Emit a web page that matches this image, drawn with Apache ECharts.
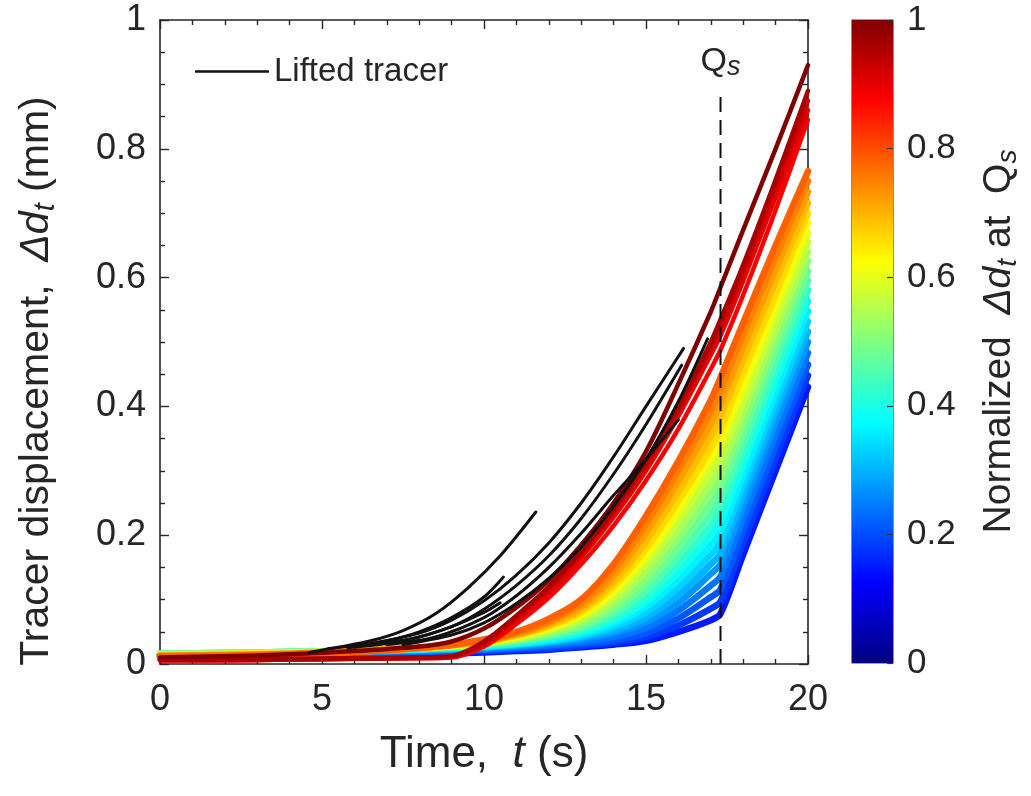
<!DOCTYPE html>
<html>
<head>
<meta charset="utf-8">
<script src="https://cdn.jsdelivr.net/npm/echarts@6/dist/echarts.min.js"></script>
<style>
  html, body { margin: 0; padding: 0; background: #ffffff; }
  #chart { width: 1031px; height: 796px; }
</style>
</head>
<body>
<div id="chart"></div>
<script>
// Sample times (s) shared by the coloured tracer curves
const timeS = [0, 2, 4, 6, 8, 9, 10, 11, 12, 13, 14, 15, 16, 17, 17.3, 18, 19, 20];

// Time at which Q_s is reached (s)
const qsTime = 17.3;
const qsLineTop = 0.89;

// Normalized displacement at Q_s (colour value of each curve)
const normLevel = [
  0.15, 0.18, 0.21, 0.24, 0.27, 0.30, 0.33, 0.36, 0.39, 0.42, 0.45,
  0.48, 0.51, 0.54, 0.57, 0.60, 0.63, 0.66, 0.69, 0.72, 0.75, 0.78,
  0.88, 0.90, 0.93, 0.96, 1.00
];

// Tracer displacement (mm) at each sample time, one row per curve (same order as normLevel)
const displacement = [
  [.010,.011,.012,.013,.015,.016,.018,.020,.022,.026,.030,.036,.050,.068,.078,.170,.300,.430],
  [.012,.013,.014,.015,.017,.018,.020,.022,.024,.028,.033,.042,.060,.086,.097,.188,.319,.448],
  [.013,.014,.015,.016,.018,.020,.022,.024,.027,.031,.037,.048,.071,.104,.116,.207,.338,.465],
  [.014,.015,.016,.018,.020,.021,.023,.026,.029,.034,.042,.056,.083,.122,.136,.226,.356,.483],
  [.015,.016,.017,.019,.021,.023,.025,.028,.032,.038,.048,.065,.095,.140,.155,.245,.375,.500],
  [.015,.016,.017,.019,.022,.023,.026,.029,.034,.041,.052,.072,.107,.155,.172,.261,.391,.516],
  [.015,.016,.018,.020,.022,.024,.026,.030,.035,.043,.057,.080,.119,.170,.189,.277,.406,.532],
  [.016,.017,.018,.020,.023,.025,.027,.031,.037,.046,.062,.089,.131,.185,.206,.292,.422,.548],
  [.016,.017,.018,.020,.023,.025,.028,.032,.039,.049,.067,.097,.143,.200,.223,.309,.439,.564],
  [.016,.017,.019,.021,.024,.026,.029,.034,.041,.052,.072,.105,.155,.215,.240,.325,.455,.580],
  [.016,.017,.019,.021,.024,.026,.030,.035,.043,.055,.078,.114,.168,.232,.256,.341,.471,.595],
  [.016,.017,.019,.021,.024,.027,.030,.036,.045,.059,.084,.124,.181,.249,.273,.358,.487,.610],
  [.015,.016,.018,.021,.024,.027,.031,.038,.047,.063,.090,.134,.195,.265,.290,.374,.502,.626],
  [.015,.016,.018,.021,.025,.027,.032,.039,.050,.067,.097,.145,.208,.282,.305,.390,.517,.641],
  [.015,.016,.018,.020,.025,.028,.032,.040,.052,.071,.104,.155,.222,.298,.322,.407,.533,.655],
  [.014,.015,.017,.020,.025,.028,.033,.042,.055,.075,.110,.165,.235,.315,.340,.425,.550,.670],
  [.014,.015,.017,.020,.025,.028,.034,.043,.056,.077,.115,.172,.244,.325,.352,.438,.562,.685],
  [.014,.015,.017,.020,.025,.029,.034,.044,.058,.080,.120,.179,.253,.335,.365,.452,.574,.700],
  [.013,.014,.016,.020,.025,.029,.035,.045,.060,.084,.127,.191,.268,.354,.385,.472,.594,.716],
  [.013,.014,.016,.020,.025,.029,.036,.046,.063,.089,.136,.204,.284,.373,.405,.492,.613,.733],
  [.012,.013,.015,.019,.025,.030,.037,.048,.066,.094,.145,.217,.300,.392,.425,.512,.632,.750],
  [.012,.013,.015,.019,.025,.030,.038,.050,.070,.100,.155,.230,.315,.410,.445,.530,.650,.765],
  [.006,.006,.007,.008,.009,.010,.027,.062,.103,.155,.215,.285,.365,.458,.488,.573,.705,.845],
  [.006,.006,.007,.008,.009,.011,.030,.068,.110,.165,.228,.300,.385,.480,.510,.595,.725,.860],
  [.006,.006,.007,.008,.010,.012,.033,.072,.116,.172,.236,.310,.395,.492,.523,.610,.742,.875],
  [.007,.007,.008,.009,.010,.012,.035,.075,.120,.175,.240,.315,.400,.500,.535,.620,.752,.890],
  [.010,.012,.015,.020,.027,.035,.055,.088,.130,.185,.250,.330,.435,.547,.585,.674,.800,.930]
];

// Lifted tracers: [time (s), displacement (mm)] pairs, each ending when the tracer lifts
const liftedTracers = [
  [[4.6,.018],[5.5,.026],[6.5,.036],[7.5,.052],[8.5,.078],[9.5,.118],[10.5,.168],[11.6,.236]],
  [[5.8,.025],[7,.036],[8,.050],[9,.072],[10,.104],[10.6,.135]],
  [[6,.028],[7,.033],[8,.042],[9,.058],[10,.080],[10.5,.095]],
  [[5.2,.024],[6.5,.032],[8,.048],[9,.068],[10,.098],[11,.138],[12,.188],[13,.250],[14,.322],[15,.400],[16.16,.490]],
  [[6,.026],[7.5,.036],[9,.058],[10,.085],[11,.122],[12,.168],[13,.226],[14,.295],[15,.372],[16.1,.464]],
  [[7,.030],[8.5,.042],[10,.072],[11,.106],[12,.150],[13,.203],[14,.262],[15,.318],[16,.379]],
  [[7.5,.030],[9,.045],[10,.064],[11,.094],[12,.133],[13,.182],[14,.245],[15,.318],[16,.408],[16.9,.505]]
];

const FONT = 'Liberation Sans';
const INK = '#262626';

// MATLAB-style jet colormap
function jet(v) {
  const ch = x => Math.round(255 * Math.max(0, Math.min(1, x)));
  return 'rgb(' + ch(1.5 - Math.abs(4 * v - 3)) + ',' +
                  ch(1.5 - Math.abs(4 * v - 2)) + ',' +
                  ch(1.5 - Math.abs(4 * v - 1)) + ')';
}

function richSet(size, subSize) {
  return {
    n:   { fontSize: size, fontFamily: FONT, color: INK, lineHeight: size + 6 },
    i:   { fontSize: size, fontFamily: FONT, color: INK, fontStyle: 'italic', lineHeight: size + 6 },
    sub: { fontSize: subSize, fontFamily: FONT, color: INK, fontStyle: 'italic',
           lineHeight: Math.round(subSize * 0.7), verticalAlign: 'bottom' }
  };
}

const series = [];

// coloured tracer curves, low values first so the high ones sit on top
normLevel.forEach((lvl, k) => {
  series.push({
    type: 'line',
    name: 'tracer ' + k,
    xAxisIndex: 0, yAxisIndex: 0,
    data: timeS.map((t, j) => [t, displacement[k][j]]),
    symbol: 'none',
    smooth: 0.3,
    silent: true,
    lineStyle: { color: jet(lvl), width: lvl > 0.85 ? 4.5 : 6.5, cap: 'round', join: 'round' },
    z: 2
  });
});

// lifted tracers in black
liftedTracers.forEach(tr => {
  series.push({
    type: 'line',
    name: 'Lifted tracer',
    xAxisIndex: 0, yAxisIndex: 0,
    data: tr,
    symbol: 'none',
    smooth: 0.3,
    silent: true,
    color: '#111111',
    lineStyle: { color: '#111111', width: 3, cap: 'round', join: 'round' },
    z: 3
  });
});

// Q_s marker line
series.push({
  type: 'line',
  name: 'Qs',
  xAxisIndex: 0, yAxisIndex: 0,
  data: [[qsTime, 0], [qsTime, qsLineTop]],
  symbol: 'none',
  silent: true,
  lineStyle: { color: '#111111', width: 2, type: [15, 8] },
  z: 4,
  markPoint: {
    symbol: 'circle',
    symbolSize: 0,
    silent: true,
    data: [{ coord: [qsTime, qsLineTop] }],
    label: {
      show: true,
      position: 'top',
      distance: 10,
      formatter: '{q|Q}{s|s}',
      rich: {
        q: { fontSize: 34, fontFamily: FONT, color: INK, lineHeight: 38 },
        s: { fontSize: 27, fontFamily: FONT, color: INK, fontStyle: 'italic', lineHeight: 18, verticalAlign: 'bottom' }
      }
    }
  }
});

// colour bar body
series.push({
  type: 'bar',
  name: 'colorbar',
  xAxisIndex: 2, yAxisIndex: 2,
  data: [1],
  barWidth: '100%',
  silent: true,
  itemStyle: {
    color: {
      type: 'linear', x: 0, y: 1, x2: 0, y2: 0,
      colorStops: [0, 0.125, 0.25, 0.375, 0.5, 0.625, 0.75, 0.875, 1].map(p => ({ offset: p, color: jet(p) }))
    }
  }
});

const axisLine = { show: true, onZero: false, lineStyle: { color: INK, width: 1.6 } };
const tickStyle = { color: INK, width: 1.4 };

const option = {
  animation: false,
  backgroundColor: '#ffffff',
  grid: [
    { left: 160, top: 20, width: 648, height: 644, show: false },
    { left: 852, top: 20, width: 41, height: 643, show: true, borderColor: '#444', borderWidth: 1.2, backgroundColor: 'transparent' }
  ],
  legend: {
    data: ['Lifted tracer'],
    left: 190, top: 50,
    icon: 'rect',
    itemWidth: 74, itemHeight: 2.5, itemGap: 8,
    textStyle: { fontSize: 33, fontFamily: FONT, color: INK, padding: [0, 0, 0, 0] },
    selectedMode: false
  },
  xAxis: [
    {
      type: 'value', gridIndex: 0, min: 0, max: 20, interval: 5, position: 'bottom',
      axisLine, splitLine: { show: false },
      axisTick: { show: true, inside: true, length: 9, lineStyle: tickStyle },
      minorTick: { show: true, splitNumber: 5, length: 5, lineStyle: tickStyle },
      axisLabel: { fontSize: 36, fontFamily: FONT, color: INK, margin: 18 },
      name: '{n|Time,  }{i|t}{n| (s)}',
      nameLocation: 'middle', nameGap: 66,
      nameTextStyle: { rich: richSet(44, 30) }
    },
    {
      type: 'value', gridIndex: 0, min: 0, max: 20, interval: 5, position: 'top',
      axisLine, splitLine: { show: false },
      axisTick: { show: true, inside: true, length: 9, lineStyle: tickStyle },
      minorTick: { show: true, splitNumber: 5, length: 5, lineStyle: tickStyle },
      axisLabel: { show: false }
    },
    {
      type: 'category', gridIndex: 1, data: [''], show: false, boundaryGap: true
    }
  ],
  yAxis: [
    {
      type: 'value', gridIndex: 0, min: 0, max: 1, interval: 0.2, position: 'left',
      axisLine, splitLine: { show: false },
      axisTick: { show: true, inside: true, length: 9, lineStyle: tickStyle },
      minorTick: { show: true, splitNumber: 4, length: 5, lineStyle: tickStyle },
      axisLabel: { fontSize: 36, fontFamily: FONT, color: INK, margin: 14 },
      name: '{n|Tracer displacement,  }{i|Δd}{sub|t}{n| (mm)}',
      nameLocation: 'middle', nameRotate: 90, nameGap: 100,
      nameTextStyle: { rich: richSet(41, 29), padding: [0, 78, 0, 0] }
    },
    {
      type: 'value', gridIndex: 0, min: 0, max: 1, interval: 0.2, position: 'right',
      axisLine, splitLine: { show: false },
      axisTick: { show: true, inside: true, length: 9, lineStyle: tickStyle },
      minorTick: { show: true, splitNumber: 4, length: 5, lineStyle: tickStyle },
      axisLabel: { show: false }
    },
    {
      type: 'value', gridIndex: 1, min: 0, max: 1, interval: 0.2, position: 'right',
      axisLine: { show: false, onZero: false }, splitLine: { show: false },
      axisTick: { show: true, inside: true, length: 6, lineStyle: { color: '#333', width: 1.2 } },
      axisLabel: { fontSize: 35, fontFamily: FONT, color: INK, margin: 14 },
      name: '{n|Normalized  }{i|Δd}{sub|t}{n| at  Q}{sub|s}',
      nameLocation: 'middle', nameRotate: 90, nameGap: 84,
      nameTextStyle: { rich: richSet(39, 28) },
      z: 5
    }
  ],
  series
};

const chart = echarts.init(document.getElementById('chart'), null, { renderer: 'canvas' });
chart.setOption(option);
</script>
</body>
</html>
